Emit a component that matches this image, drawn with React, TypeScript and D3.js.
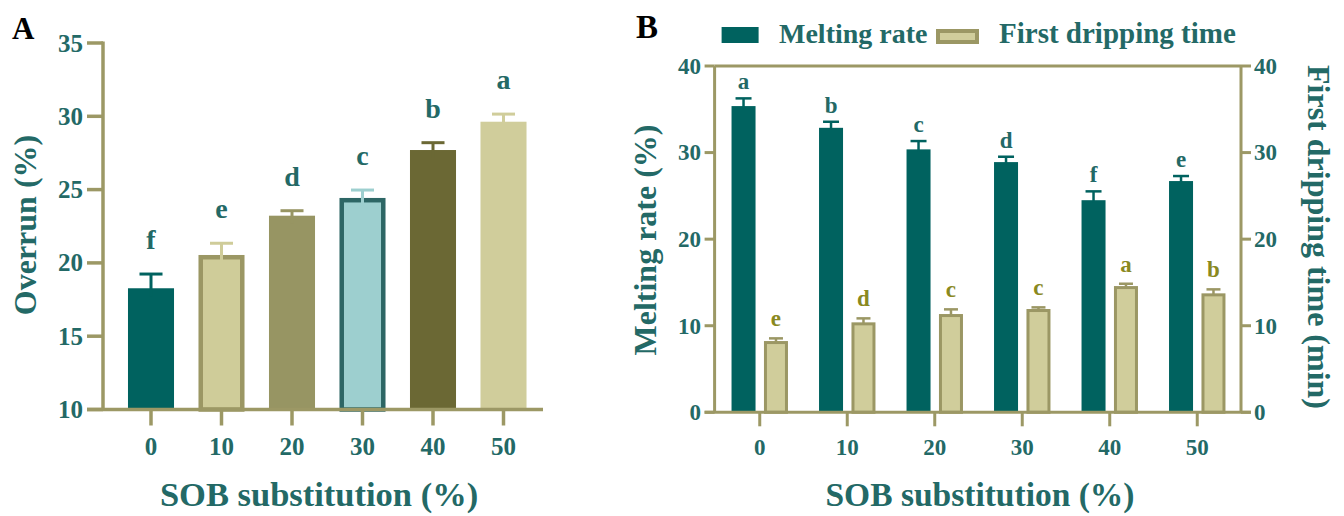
import React from "react";
import * as d3 from "d3";

const categories = ["0", "10", "20", "30", "40", "50"];
const overrun = [18.27, 20.54, 23.22, 24.43, 27.7, 29.63];
const overrunErr = [0.97, 0.8, 0.34, 0.54, 0.5, 0.52];
const overrunLetters = ["f", "e", "d", "c", "b", "a"];
const overrunTicks = [10, 15, 20, 25, 30, 35];

const meltingRate = [35.37, 32.86, 30.37, 28.9, 24.5, 26.71];
const meltingErr = [0.89, 0.7, 0.96, 0.62, 1.02, 0.58];
const meltingLetters = ["a", "b", "c", "d", "f", "e"];
const drippingTime = [8.23, 10.39, 11.35, 11.93, 14.58, 13.74];
const drippingErr = [0.31, 0.46, 0.54, 0.19, 0.27, 0.46];
const drippingLetters = ["e", "d", "c", "c", "a", "b"];
const bTicks = [0, 10, 20, 30, 40];

const AXIS = "#9c9865";
const TEAL = "#00625f";
const TXT = "#236966";
const KHAKI = "#d0cd9b";
const OLIVE_TXT = "#8a891f";
const FONT = "'Liberation Serif', 'Times New Roman', serif";

const aStyles = [
  { fill: TEAL, stroke: null, err: TEAL },
  { fill: "#cfcc99", stroke: "#9b9764", err: "#cfcc99" },
  { fill: "#979563", stroke: null, err: "#979563" },
  { fill: "#9dcfcf", stroke: "#2d6665", err: "#9dcfcf" },
  { fill: "#6b6834", stroke: null, err: "#6b6834" },
  { fill: KHAKI, stroke: null, err: KHAKI },
];

function PanelA() {
  const x = d3.scaleBand<string>().domain(categories).range([115.75, 538.75]).paddingInner(0.347).paddingOuter(0.1735);
  const y = d3.scaleLinear().domain([10, 35]).range([409.5, 43]);
  const axisX = 103;
  const bw = x.bandwidth();
  return (
    <g>
      <text x={12} y={39} fontSize={31} fontWeight="bold" fill="#000" fontFamily={FONT}>A</text>
      {categories.map((c, i) => {
        const s = aStyles[i];
        const x0 = x(c)!;
        const top = y(overrun[i]);
        const sw = s.stroke ? 4.5 : 0;
        const cx = x0 + bw / 2;
        const et = y(overrun[i] + overrunErr[i]);
        return (
          <g key={c}>
            <rect x={x0 + sw / 2} y={top + sw / 2} width={bw - sw} height={y(10) - top - sw / 2}
              fill={s.fill} stroke={s.stroke || "none"} strokeWidth={sw} />
            <line x1={cx} x2={cx} y1={top + 8} y2={et} stroke={s.err} strokeWidth={3} />
            <line x1={cx - bw / 4} x2={cx + bw / 4} y1={et} y2={et} stroke={s.err} strokeWidth={3} />
            <text x={cx} y={et - 25} textAnchor="middle" fontSize={28} fontWeight="bold" fill={TXT} fontFamily={FONT}>{overrunLetters[i]}</text>
            <line x1={cx} x2={cx} y1={y(10)} y2={y(10) + 16} stroke={AXIS} strokeWidth={3.5} />
            <text x={cx} y={455} textAnchor="middle" fontSize={25} fontWeight="bold" fill={TXT} fontFamily={FONT}>{c}</text>
          </g>
        );
      })}
      <line x1={axisX} x2={axisX} y1={y(35) - 1.5} y2={y(10)} stroke={AXIS} strokeWidth={3.5} />
      <line x1={axisX - 16} x2={543} y1={y(10)} y2={y(10)} stroke={AXIS} strokeWidth={3.5} />
      {overrunTicks.map((t) => (
        <g key={t}>
          <line x1={axisX - 16} x2={axisX} y1={y(t)} y2={y(t)} stroke={AXIS} strokeWidth={3.5} />
          <text x={83} y={y(t)} dy="0.34em" textAnchor="end" fontSize={25} fontWeight="bold" fill={TXT} fontFamily={FONT}>{t}</text>
        </g>
      ))}
      <text transform="translate(36,225) rotate(-90)" textAnchor="middle" fontSize={32} fontWeight="bold" fill={TXT} fontFamily={FONT}>Overrun (%)</text>
      <text x={319} y={506} textAnchor="middle" fontSize={34.5} fontWeight="bold" fill={TXT} fontFamily={FONT}>SOB substitution (%)</text>
    </g>
  );
}

function PanelB() {
  const x0 = d3.scaleBand<string>().domain(categories).range([716, 1241]).paddingInner(0.355).paddingOuter(0.1775);
  const x1 = d3.scaleBand<string>().domain(["melt", "drip"]).range([0, x0.bandwidth()]).paddingInner(0.26);
  const yL = d3.scaleLinear().domain([0, 40]).range([412.3, 66]);
  const yR = d3.scaleLinear().domain([0, 40]).range([412.3, 66]);
  const left = 714.6;
  const right = 1241;
  const bw = x1.bandwidth();
  return (
    <g>
      <text x={636} y={38} fontSize={33} fontWeight="bold" fill="#000" fontFamily={FONT}>B</text>
      {/* legend */}
      <rect x={721.6} y={27} width={37} height={16} fill={TEAL} />
      <text x={779} y={43} fontSize={28} fontWeight="bold" fill={TXT} fontFamily={FONT}>Melting rate</text>
      <rect x={938} y={31} width={39} height={11} fill={KHAKI} stroke="#9b9764" strokeWidth={4} />
      <text x={999} y={43} fontSize={29} fontWeight="bold" fill={TXT} fontFamily={FONT}>First dripping time</text>
      {categories.map((c, i) => {
        const g = x0(c)!;
        const mx = g + x1("melt")!;
        const dx = g + x1("drip")!;
        const mTop = yL(meltingRate[i]);
        const mEt = yL(meltingRate[i] + meltingErr[i]);
        const dTop = yR(drippingTime[i]);
        const dEt = yR(drippingTime[i] + drippingErr[i]);
        const sw = 3;
        const mcx = mx + bw / 2;
        const dcx = dx + bw / 2;
        const tick = g + x0.bandwidth() / 2;
        return (
          <g key={c}>
            <rect x={mx} y={mTop} width={bw} height={yL(0) - mTop} fill={TEAL} />
            <line x1={mcx} x2={mcx} y1={mTop + 2} y2={mEt} stroke={TEAL} strokeWidth={2.5} />
            <line x1={mcx - 8} x2={mcx + 8} y1={mEt} y2={mEt} stroke={TEAL} strokeWidth={2.5} />
            <text x={mcx} y={mEt - 9} textAnchor="middle" fontSize={23} fontWeight="bold" fill={TXT} fontFamily={FONT}>{meltingLetters[i]}</text>
            <rect x={dx + sw / 2} y={dTop + sw / 2} width={bw - sw} height={yR(0) - dTop - sw / 2} fill={KHAKI} stroke="#9b9764" strokeWidth={sw} />
            <line x1={dcx} x2={dcx} y1={dTop + 2} y2={dEt} stroke="#9b9764" strokeWidth={2.5} />
            <line x1={dcx - 7} x2={dcx + 7} y1={dEt} y2={dEt} stroke="#9b9764" strokeWidth={2.5} />
            <text x={dcx} y={dEt - 12} textAnchor="middle" fontSize={23} fontWeight="bold" fill={OLIVE_TXT} fontFamily={FONT}>{drippingLetters[i]}</text>
            <line x1={tick} x2={tick} y1={yL(0)} y2={yL(0) + 14} stroke={AXIS} strokeWidth={3} />
            <text x={tick} y={455} textAnchor="middle" fontSize={23} fontWeight="bold" fill={TXT} fontFamily={FONT}>{c}</text>
          </g>
        );
      })}
      <line x1={left} x2={left} y1={yL(40)} y2={yL(0)} stroke={AXIS} strokeWidth={3} />
      <line x1={right} x2={right} y1={yR(40)} y2={yR(0)} stroke={AXIS} strokeWidth={3} />
      <line x1={left} x2={right} y1={yL(40)} y2={yL(40)} stroke={AXIS} strokeWidth={3} />
      <line x1={left - 10} x2={right + 10} y1={yL(0)} y2={yL(0)} stroke={AXIS} strokeWidth={3} />
      {bTicks.map((t) => (
        <g key={t}>
          <line x1={left - 10} x2={left} y1={yL(t)} y2={yL(t)} stroke={AXIS} strokeWidth={3} />
          <text x={701} y={yL(t)} dy="0.34em" textAnchor="end" fontSize={23} fontWeight="bold" fill={TXT} fontFamily={FONT}>{t}</text>
          <line x1={right} x2={right + 10} y1={yR(t)} y2={yR(t)} stroke={AXIS} strokeWidth={3} />
          <text x={1254} y={yR(t)} dy="0.34em" textAnchor="start" fontSize={23} fontWeight="bold" fill={TXT} fontFamily={FONT}>{t}</text>
        </g>
      ))}
      <text transform="translate(656,240) rotate(-90)" textAnchor="middle" fontSize={32} fontWeight="bold" fill={TXT} fontFamily={FONT}>Melting rate (%)</text>
      <text transform="translate(1308,237) rotate(90)" textAnchor="middle" fontSize={32} fontWeight="bold" fill={TXT} fontFamily={FONT}>First dripping time (min)</text>
      <text x={980} y={506} textAnchor="middle" fontSize={33.5} fontWeight="bold" fill={TXT} fontFamily={FONT}>SOB substitution (%)</text>
    </g>
  );
}

export default function App() {
  return (
    <div style={{ position: "absolute", left: 0, top: 0 }}>
      <svg width={1344} height={516} viewBox="0 0 1344 516" style={{ display: "block", background: "#fff" }}>
        <PanelA />
        <PanelB />
      </svg>
    </div>
  );
}
